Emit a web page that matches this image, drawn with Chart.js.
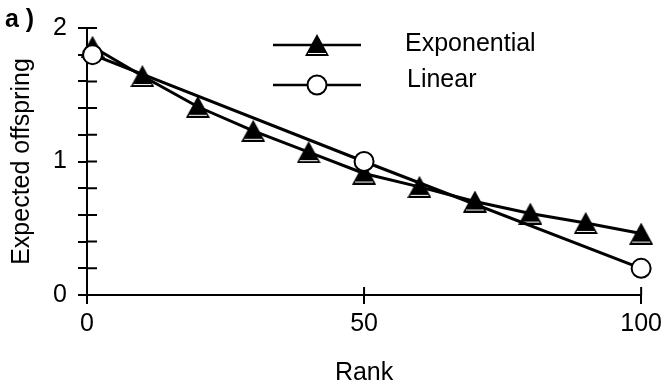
<!DOCTYPE html>
<html>
<head>
<meta charset="utf-8">
<script src="https://cdn.jsdelivr.net/npm/chart.js@4/dist/chart.umd.min.js"></script>
<style>
  html, body { margin: 0; padding: 0; background: #fff; }
  #wrap { width: 667px; height: 385px; }
</style>
</head>
<body>
<div id="wrap"><canvas id="rank_chart" width="667" height="385"></canvas></div>
<script>
// expected offspring per rank
const expRanks = [1, 10, 20, 30, 40, 50, 60, 70, 80, 90, 100];
const expValues = [1.86, 1.64, 1.41, 1.23, 1.07, 0.91, 0.81, 0.70, 0.61, 0.54, 0.46];
const linRanks = [1, 50, 100];
const linValues = [1.8, 1.0, 0.2];
const xTicks = [0, 50, 100];
const seriesNames = ['Exponential', 'Linear'];

const FONT = 'Liberation Sans, Arial, Helvetica, sans-serif';
const FONT_SIZE = 25;

// solid triangle marker, centred on its bounding box
function makeTriangle() {
    const c = document.createElement('canvas');
    c.width = 24;
    c.height = 22;
    const g = c.getContext('2d');
    g.fillStyle = '#000';
    g.beginPath();
    g.moveTo(12, 0);
    g.lineTo(24, 22);
    g.lineTo(0, 22);
    g.closePath();
    g.fill();
    g.strokeStyle = '#fff';
    g.lineWidth = 1;
    g.beginPath();
    g.moveTo(3, 19.5);
    g.lineTo(21, 19.5);
    g.stroke();
    return c;
}
const triangle = makeTriangle();

function toPoints(xs, ys) {
    return xs.map(function (x, i) { return { x: x, y: ys[i] }; });
}

// inner halves of the axis ticks, the legend and the panel letter
const extrasPlugin = {
    id: 'extras',
    beforeDatasetsDraw: function (chart) {
        const ctx = chart.ctx;
        const xs = chart.scales.x, ys = chart.scales.y;
        const left = chart.chartArea.left, bottom = chart.chartArea.bottom;
        ctx.save();
        ctx.strokeStyle = '#000';
        ctx.lineWidth = 2;
        ctx.beginPath();
        ys.ticks.forEach(function (t) {
            const py = ys.getPixelForValue(t.value);
            ctx.moveTo(left, py);
            ctx.lineTo(left + 10, py);
        });
        xs.ticks.forEach(function (t) {
            const px = xs.getPixelForValue(t.value);
            ctx.moveTo(px, bottom);
            ctx.lineTo(px, bottom - 8);
        });
        ctx.stroke();
        ctx.restore();
    },
    afterDraw: function (chart) {
        const ctx = chart.ctx;
        ctx.save();
        const rows = [45, 85];
        const textRows = [44, 80];
        chart.data.datasets.forEach(function (ds, i) {
            const y = rows[i];
            ctx.strokeStyle = '#000';
            ctx.lineWidth = 2.5;
            ctx.beginPath();
            ctx.moveTo(273, y);
            ctx.lineTo(361, y);
            ctx.stroke();
            ctx.fillStyle = ds.pointBackgroundColor;
            ctx.strokeStyle = ds.pointBorderColor;
            ctx.lineWidth = ds.pointBorderWidth;
            Chart.helpers.drawPoint(ctx, {
                pointStyle: ds.pointStyle,
                radius: ds.pointRadius,
                borderWidth: ds.pointBorderWidth,
                rotation: 0
            }, 317, y);
            ctx.fillStyle = '#000';
            ctx.font = FONT_SIZE + 'px ' + FONT;
            ctx.textBaseline = 'middle';
            ctx.textAlign = 'left';
            ctx.fillText(ds.label, i === 0 ? 405 : 407, textRows[i]);
        });
        ctx.font = 'bold ' + FONT_SIZE + 'px ' + FONT;
        ctx.textBaseline = 'middle';
        ctx.fillText('a )', 5, 20);
        ctx.restore();
    }
};

const ctx = document.getElementById('rank_chart').getContext('2d');
window.rankChart = new Chart(ctx, {
    type: 'line',
    data: {
        datasets: [{
            label: seriesNames[0],
            data: toPoints(expRanks, expValues),
            borderColor: '#000',
            borderWidth: 3,
            pointStyle: triangle,
            pointRadius: 12,
            pointBackgroundColor: '#000',
            pointBorderColor: '#000',
            pointBorderWidth: 1,
            tension: 0,
            clip: false,
            order: 2
        }, {
            label: seriesNames[1],
            data: toPoints(linRanks, linValues),
            borderColor: '#000',
            borderWidth: 3,
            pointStyle: 'circle',
            pointRadius: 9.5,
            pointBackgroundColor: '#fff',
            pointBorderColor: '#000',
            pointBorderWidth: 2,
            tension: 0,
            clip: false,
            order: 1
        }]
    },
    options: {
        responsive: false,
        animation: false,
        layout: { padding: { left: 0, right: 24, top: 28, bottom: 0 } },
        plugins: {
            legend: { display: false },
            tooltip: { enabled: false }
        },
        scales: {
            x: {
                type: 'linear',
                min: 0,
                max: 100,
                afterBuildTicks: function (scale) {
                    scale.ticks = xTicks.map(function (v) { return { value: v }; });
                },
                ticks: {
                    font: { family: FONT, size: FONT_SIZE },
                    color: '#000',
                    padding: 5,
                    maxRotation: 0,
                    autoSkip: false
                },
                grid: { drawOnChartArea: false, tickLength: 9, color: '#000', lineWidth: 2 },
                border: { color: '#000', width: 2 },
                title: {
                    display: true,
                    text: 'Rank',
                    font: { family: FONT, size: FONT_SIZE },
                    color: '#000',
                    padding: { top: 0, bottom: -3 }
                },
                afterFit: function (scale) { scale.height = 90; }
            },
            y: {
                min: 0,
                max: 2,
                ticks: {
                    stepSize: 0.2,
                    autoSkip: false,
                    font: { family: FONT, size: FONT_SIZE },
                    color: '#000',
                    padding: 11,
                    callback: function (v) {
                        const r = Math.round(v);
                        return Math.abs(v - r) < 1e-6 ? String(r) : '';
                    }
                },
                grid: { drawOnChartArea: false, tickLength: 9, color: '#000', lineWidth: 2 },
                border: { color: '#000', width: 2 },
                title: {
                    display: true,
                    text: 'Expected offspring',
                    font: { family: FONT, size: FONT_SIZE },
                    color: '#000',
                    padding: { top: 7, bottom: 0 }
                },
                afterFit: function (scale) { scale.width = 87; }
            }
        }
    },
    plugins: [extrasPlugin]
});
</script>
</body>
</html>
